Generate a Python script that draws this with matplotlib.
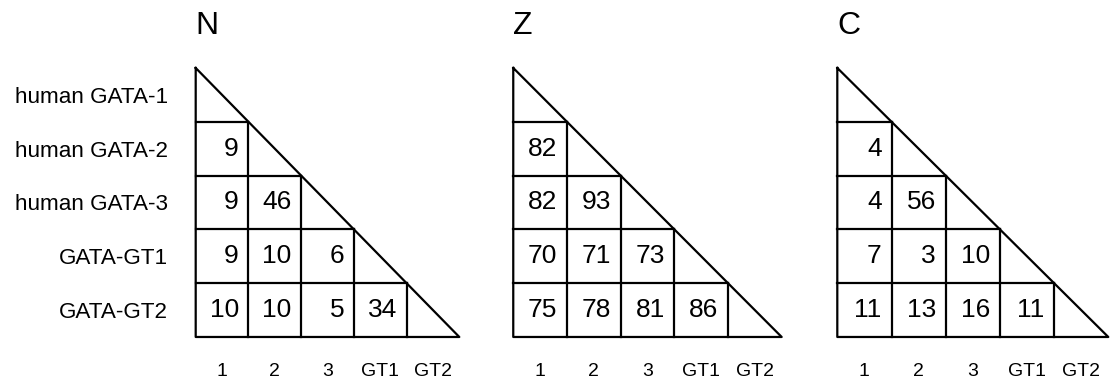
import numpy as np
import matplotlib.pyplot as plt

plt.rcParams['font.family'] = ['Liberation Sans', 'DejaVu Sans']

row_labels = ['human GATA-1', 'human GATA-2', 'human GATA-3', 'GATA-GT1', 'GATA-GT2']
col_labels = ['1', '2', '3', 'GT1', 'GT2']
panel_titles = ['N', 'Z', 'C']

# lower triangle, rows 2..5 of the matrix
n_values = [[9], [9, 46], [9, 10, 6], [10, 10, 5, 34]]
z_values = [[82], [82, 93], [70, 71, 73], [75, 78, 81, 86]]
c_values = [[4], [4, 56], [7, 3, 10], [11, 13, 16, 11]]

panel_values = [n_values, z_values, c_values]
panel_boxes = [[0.1752, 0.1132, 0.2360, 0.708],
               [0.4595, 0.1132, 0.2403, 0.708],
               [0.7496, 0.1132, 0.2426, 0.708]]


def draw_triangle(ax, values, title, show_rows):
    n = len(col_labels)
    ax.set_xlim(0, n)
    ax.set_ylim(n, 0)
    kw = dict(color='black', lw=1.6, solid_capstyle='projecting', clip_on=False)
    ax.plot([0, 0, n, 0], [0, n, n, 0], **kw)
    for k in range(1, n):
        ax.plot([0, k], [k, k], **kw)
        ax.plot([k, k], [k, n], **kw)
    for i, row in enumerate(values, start=1):
        for j, v in enumerate(row):
            ax.text(j + 0.82, i + 0.5, str(v), ha='right', va='center', fontsize=19)

    ax.set_xticks(np.arange(n) + 0.5, col_labels, fontsize=14)
    if show_rows:
        ax.set_yticks(np.arange(n) + 0.5, row_labels, fontsize=16.2)
    else:
        ax.set_yticks([])
    ax.tick_params(length=0)
    ax.tick_params(axis='x', pad=19)
    ax.tick_params(axis='y', pad=20)
    for s in ax.spines.values():
        s.set_visible(False)
    ax.text(0, 1.156, title, transform=ax.transAxes, ha='left', va='center', fontsize=23)


fig = plt.figure(figsize=(11.17, 3.8), dpi=100)
for k in range(3):
    ax = fig.add_axes(panel_boxes[k])
    draw_triangle(ax, panel_values[k], panel_titles[k], k == 0)

fig.savefig('out.png', dpi=100)
